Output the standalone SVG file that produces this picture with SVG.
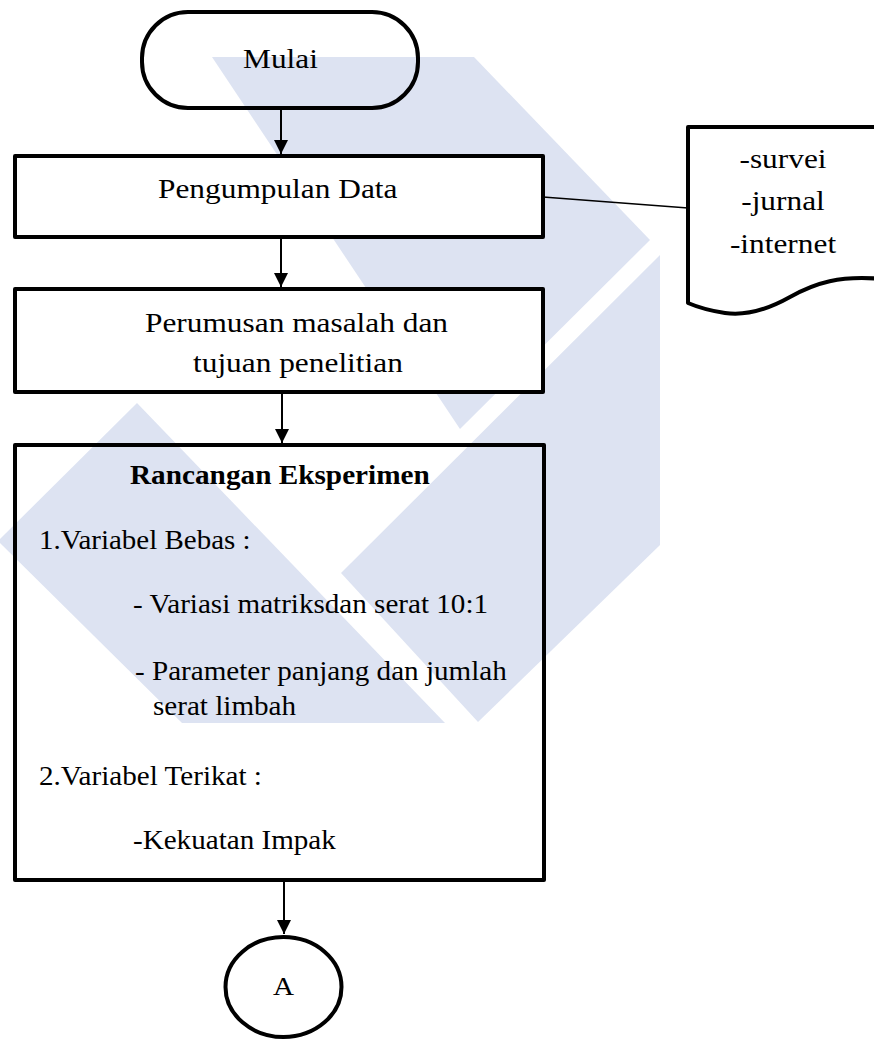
<svg xmlns="http://www.w3.org/2000/svg" width="874" height="1040" viewBox="0 0 874 1040">
<defs>
<style>
.box{stroke:#000;stroke-width:4;stroke-linejoin:round}
.wm{fill:#dde3f2}
.ln{stroke:#000;stroke-width:2;fill:none}
</style>
<marker id="ah" viewBox="0 0 14 14" refX="14" refY="7" markerWidth="14" markerHeight="14" markerUnits="userSpaceOnUse" orient="auto">
<path d="M0,0 L14,7 L0,14 Z" fill="#000"/>
</marker>
</defs>
<rect width="874" height="1040" fill="#fff"/>
<g id="watermark">
<polygon class="wm" points="212,57 474,57 650,240 460,429"/>
<polygon class="wm" points="660,255 660,545 478,722 341,573"/>
<polygon class="wm" points="137,403 445,723 182,723 -2,541"/>
</g>
<g id="mulai">
<rect class="box" x="142" y="12" width="276" height="96" rx="46" ry="46" fill="none"/>
<text font-family="Liberation Serif, serif" font-size="28" transform="translate(280.5,68) scale(1.12,1)" text-anchor="middle">Mulai</text>
</g>
<g id="pengumpulan">
<rect class="box" x="15" y="156" width="528" height="81" fill="#fff"/>
<text font-family="Liberation Serif, serif" font-size="28" transform="translate(158,198) scale(1.12,1)">Pengumpulan Data</text>
</g>
<g id="sumber">
<path class="box" d="M688,127 H882 V279 C840,275 815,283 790,297 C765,311 745,316 725,313 C705,310 695,306 688,303 Z" fill="#fff"/>
<text font-family="Liberation Serif, serif" font-size="28" transform="translate(783,168) scale(1.12,1)" text-anchor="middle">-survei</text>
<text font-family="Liberation Serif, serif" font-size="28" transform="translate(783,210) scale(1.12,1)" text-anchor="middle">-jurnal</text>
<text font-family="Liberation Serif, serif" font-size="28" transform="translate(783,253) scale(1.12,1)" text-anchor="middle">-internet</text>
</g>
<g id="perumusan">
<rect class="box" x="15" y="289" width="528" height="103" fill="#fff"/>
<text font-family="Liberation Serif, serif" font-size="28" transform="translate(145,332) scale(1.12,1)">Perumusan masalah dan</text>
<text font-family="Liberation Serif, serif" font-size="28" transform="translate(193,372) scale(1.12,1)">tujuan penelitian</text>
</g>
<g id="rancangan">
<rect class="box" x="15" y="445" width="529" height="435" fill="none"/>
<text font-family="Liberation Serif, serif" font-size="28" font-weight="bold" transform="translate(130,484) scale(1.045,1)">Rancangan Eksperimen</text>
<text font-family="Liberation Serif, serif" font-size="28" transform="translate(39,549) scale(1.035,1)">1.Variabel Bebas :</text>
<text font-family="Liberation Serif, serif" font-size="28" transform="translate(133,613) scale(1.04,1)">- Variasi matriksdan serat 10:1</text>
<text font-family="Liberation Serif, serif" font-size="28" transform="translate(135,680) scale(1.04,1)">- Parameter panjang dan jumlah</text>
<text font-family="Liberation Serif, serif" font-size="28" transform="translate(153,715) scale(1.04,1)">serat limbah</text>
<text font-family="Liberation Serif, serif" font-size="28" transform="translate(39,785) scale(1.04,1)">2.Variabel Terikat :</text>
<text font-family="Liberation Serif, serif" font-size="28" transform="translate(133,849) scale(1.04,1)">-Kekuatan Impak</text>
</g>
<g id="konektor-a">
<ellipse class="box" cx="283.5" cy="987" rx="58" ry="50" fill="none"/>
<text font-family="Liberation Serif, serif" font-size="26" transform="translate(283.5,995) scale(1.12,1)" text-anchor="middle">A</text>
</g>
<g id="connectors">
<line class="ln" x1="281" y1="108" x2="281" y2="154" marker-end="url(#ah)"/>
<line class="ln" x1="281" y1="237" x2="281" y2="287" marker-end="url(#ah)"/>
<line class="ln" x1="282" y1="392" x2="282" y2="443" marker-end="url(#ah)"/>
<line class="ln" x1="284" y1="880" x2="284" y2="934" marker-end="url(#ah)"/>
<line x1="543" y1="197" x2="688" y2="208" stroke="#000" stroke-width="1.5"/>
</g>
</svg>
